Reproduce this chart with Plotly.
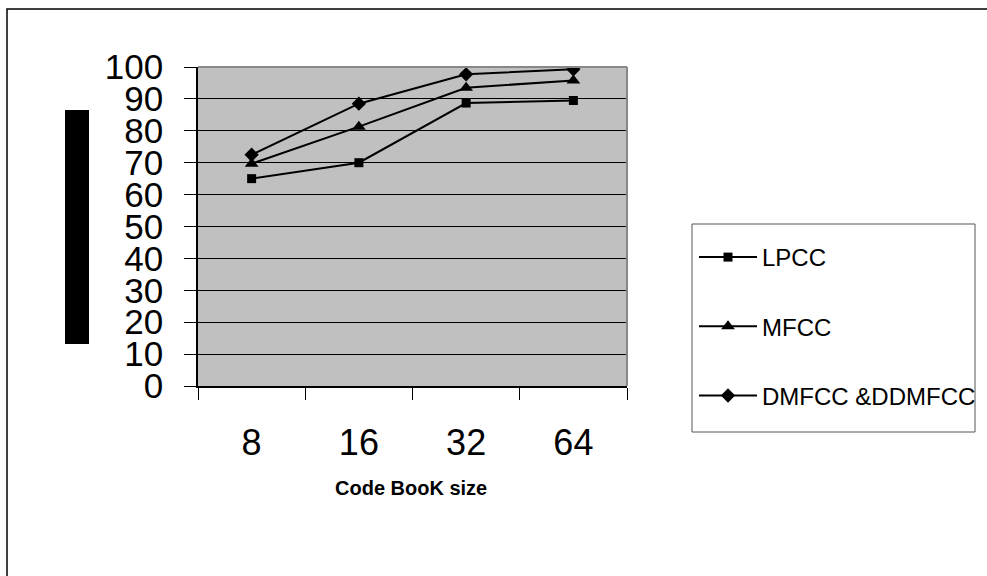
import plotly.graph_objects as go

categories = ["8", "16", "32", "64"]
lpcc = [65, 70, 88.7, 89.5]
mfcc = [69.7, 81.3, 93.5, 95.8]
dmfcc = [72.5, 88.5, 97.7, 99.3]
y_ticks = [0, 10, 20, 30, 40, 50, 60, 70, 80, 90, 100]

W, H = 987, 576
L, R, T, B = 198, 627, 67, 386

def px_x(x):
    return (x - L) / (R - L)

def px_y(y):
    return (B - y) / (B - T)

fig = go.Figure()
series = [("LPCC", lpcc, "square", 9), ("MFCC", mfcc, "triangle-up", 12),
          ("DMFCC &DDMFCC", dmfcc, "diamond", 11)]
for i, (name, vals, sym, sz) in enumerate(series):
    fig.add_trace(go.Scatter(
        x=categories, y=vals, name=name, mode="lines+markers",
        line=dict(color="black", width=2),
        marker=dict(symbol=sym, size=sz, color="black"),
        legendgroup=str(i),
    ))

fig.update_layout(
    width=W, height=H,
    margin=dict(l=L, r=W - R, t=T, b=H - B, autoexpand=False),
    paper_bgcolor="white",
    plot_bgcolor="#C0C0C0",
    font=dict(family="Arial, Liberation Sans, sans-serif", color="black"),
    showlegend=True,
    legend=dict(
        x=px_x(694), y=px_y(235), xanchor="left", yanchor="top",
        bgcolor="rgba(0,0,0,0)", borderwidth=0,
        font=dict(size=24, color="black"),
        itemwidth=58, tracegroupgap=35,
        itemclick=False,
    ),
    xaxis=dict(
        type="category", range=[-0.5, 3.5],
        showgrid=False, showline=True, linecolor="black", linewidth=1.5,
        ticks="outside", ticklen=12, tickcolor="black", tickwidth=1,
        tickson="boundaries",
        tickfont=dict(size=36), ticklabelstandoff=24,
        mirror=False, zeroline=False,
    ),
    yaxis=dict(
        range=[0, 100], tickvals=y_ticks,
        showgrid=True, gridcolor="black", gridwidth=1,
        showline=True, linecolor="black", linewidth=1.5,
        ticks="outside", ticklen=12, tickcolor="black", tickwidth=1,
        tickfont=dict(size=35), ticklabelstandoff=14,
        zeroline=False,
    ),
    shapes=[
        dict(type="line", xref="paper", yref="paper", x0=0, x1=1, y0=1, y1=1,
             line=dict(color="#888888", width=2)),
        dict(type="line", xref="paper", yref="paper", x0=1, x1=1, y0=0, y1=1,
             line=dict(color="#888888", width=2)),
        dict(type="rect", xref="paper", yref="paper",
             x0=px_x(65), x1=px_x(89), y0=px_y(344), y1=px_y(110),
             fillcolor="black", line=dict(width=0)),
        dict(type="rect", xref="paper", yref="paper",
             x0=px_x(7), x1=px_x(1010), y0=px_y(620), y1=px_y(9),
             fillcolor="rgba(0,0,0,0)", line=dict(color="black", width=1.5),
             layer="below"),
        dict(type="rect", xref="paper", yref="paper",
             x0=px_x(692), x1=px_x(975), y0=px_y(432), y1=px_y(224),
             fillcolor="white", line=dict(color="#555555", width=1)),
    ],
    annotations=[
        dict(text="<b>Code BooK size</b>", xref="paper", yref="paper",
             x=px_x(411), y=px_y(488), xanchor="center", yanchor="middle",
             showarrow=False, font=dict(size=20, color="black")),
    ],
)

fig.write_html("out.html",
               config={"displayModeBar": False},
               post_script="document.body.style.margin='0px';")
